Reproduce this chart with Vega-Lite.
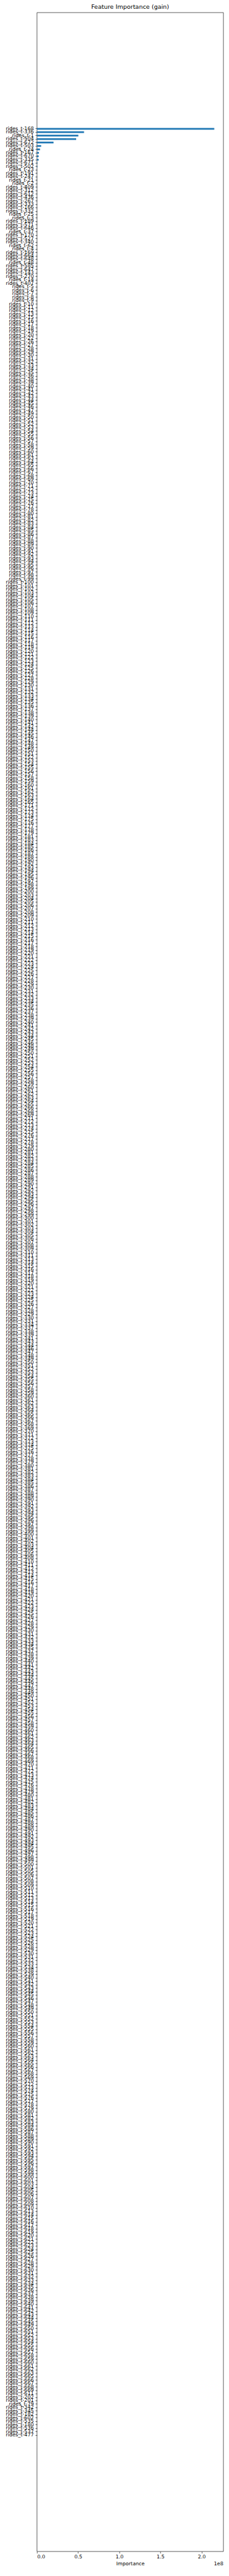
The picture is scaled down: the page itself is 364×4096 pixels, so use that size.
{"$schema":"https://vega.github.io/schema/vega-lite/v6.json","width":296.3,"height":4037,"autosize":"none","padding":{"left":58.7,"top":19.9,"right":9,"bottom":39.1},"background":"white","title":{"text":"Feature Importance (gain)","fontSize":9.47,"fontWeight":"normal","font":"DejaVu Sans","color":"black","anchor":"middle","frame":"group","offset":3.5},"config":{"view":{"stroke":"black","strokeWidth":0.63},"font":"DejaVu Sans"},"layer":[{"data":{"values":[
{"f":"rides_t-168","v":215600000},{"f":"rides_t-336","v":57270000},{"f":"rides_t-1","v":50350000},{"f":"rides_t-504","v":47700000},{"f":"rides_t-672","v":20210000},{"f":"rides_t-503","v":5140000},{"f":"rides_t-24","v":3720000},{"f":"rides_t-167","v":2480000},{"f":"rides_t-670","v":2130000},{"f":"rides_t-335","v":2120000},{"f":"rides_t-671","v":530000},{"f":"rides_t-502","v":520000},
{"f":"rides_t-23","v":120000},{"f":"rides_t-191","v":110000},{"f":"rides_t-247","v":100000},{"f":"rides_t-21","v":95000},{"f":"rides_t-2","v":90000},{"f":"rides_t-409","v":86000},{"f":"rides_t-312","v":82000},{"f":"rides_t-612","v":79000},{"f":"rides_t-436","v":76000},{"f":"rides_t-267","v":73000},
{"f":"rides_t-333","v":70000},{"f":"rides_t-166","v":68000},{"f":"rides_t-332","v":66000},{"f":"rides_t-25","v":64000},{"f":"rides_t-3","v":62000},{"f":"rides_t-189","v":60000},{"f":"rides_t-571","v":58000},{"f":"rides_t-646","v":56500},{"f":"rides_t-37","v":55000},{"f":"rides_t-170","v":53500},
{"f":"rides_t-527","v":52000},{"f":"rides_t-340","v":50500},{"f":"rides_t-62","v":49000},{"f":"rides_t-4","v":48000},{"f":"rides_t-169","v":47000},{"f":"rides_t-664","v":46000},{"f":"rides_t-648","v":45000},{"f":"rides_t-48","v":44000},{"f":"rides_t-585","v":43000},{"f":"rides_t-647","v":42000},
{"f":"rides_t-143","v":41000},{"f":"rides_t-270","v":40000},{"f":"rides_t-14","v":39000},{"f":"rides_t-407","v":38000},
{"f":"rides_t-5","v":37000},{"f":"rides_t-6","v":37000},{"f":"rides_t-7","v":37000},{"f":"rides_t-8","v":37000},{"f":"rides_t-9","v":37000},{"f":"rides_t-10","v":37000},{"f":"rides_t-11","v":37000},{"f":"rides_t-12","v":37000},{"f":"rides_t-13","v":37000},{"f":"rides_t-15","v":37000},
{"f":"rides_t-16","v":36400},{"f":"rides_t-17","v":36400},{"f":"rides_t-18","v":36400},{"f":"rides_t-19","v":36400},{"f":"rides_t-20","v":36400},{"f":"rides_t-22","v":36400},{"f":"rides_t-26","v":36400},{"f":"rides_t-27","v":36400},{"f":"rides_t-28","v":36400},{"f":"rides_t-29","v":36400},
{"f":"rides_t-30","v":35800},{"f":"rides_t-31","v":35800},{"f":"rides_t-32","v":35800},{"f":"rides_t-33","v":35800},{"f":"rides_t-34","v":35800},{"f":"rides_t-35","v":35800},{"f":"rides_t-36","v":35800},{"f":"rides_t-38","v":35800},{"f":"rides_t-39","v":35800},{"f":"rides_t-40","v":35800},
{"f":"rides_t-41","v":35200},{"f":"rides_t-42","v":35200},{"f":"rides_t-43","v":35200},{"f":"rides_t-44","v":35200},{"f":"rides_t-45","v":35200},{"f":"rides_t-46","v":35200},{"f":"rides_t-47","v":35200},{"f":"rides_t-49","v":35200},{"f":"rides_t-50","v":35200},{"f":"rides_t-51","v":35200},
{"f":"rides_t-52","v":34600},{"f":"rides_t-53","v":34600},{"f":"rides_t-54","v":34600},{"f":"rides_t-55","v":34600},{"f":"rides_t-56","v":34600},{"f":"rides_t-57","v":34600},{"f":"rides_t-58","v":34600},{"f":"rides_t-59","v":34600},{"f":"rides_t-60","v":34600},{"f":"rides_t-61","v":34600},
{"f":"rides_t-63","v":34000},{"f":"rides_t-64","v":34000},{"f":"rides_t-65","v":34000},{"f":"rides_t-66","v":34000},{"f":"rides_t-67","v":34000},{"f":"rides_t-68","v":34000},{"f":"rides_t-69","v":34000},{"f":"rides_t-70","v":34000},{"f":"rides_t-71","v":34000},{"f":"rides_t-72","v":34000},
{"f":"rides_t-73","v":33400},{"f":"rides_t-74","v":33400},{"f":"rides_t-75","v":33400},{"f":"rides_t-76","v":33400},{"f":"rides_t-77","v":33400},{"f":"rides_t-78","v":33400},{"f":"rides_t-80","v":33400},{"f":"rides_t-81","v":33400},{"f":"rides_t-82","v":33400},{"f":"rides_t-83","v":33400},
{"f":"rides_t-84","v":32800},{"f":"rides_t-85","v":32800},{"f":"rides_t-86","v":32800},{"f":"rides_t-87","v":32800},{"f":"rides_t-88","v":32800},{"f":"rides_t-89","v":32800},{"f":"rides_t-90","v":32800},{"f":"rides_t-91","v":32800},{"f":"rides_t-92","v":32800},{"f":"rides_t-93","v":32800},
{"f":"rides_t-94","v":32200},{"f":"rides_t-95","v":32200},{"f":"rides_t-96","v":32200},{"f":"rides_t-97","v":32200},{"f":"rides_t-98","v":32200},{"f":"rides_t-99","v":32200},{"f":"rides_t-100","v":32200},{"f":"rides_t-101","v":32200},{"f":"rides_t-102","v":32200},{"f":"rides_t-103","v":32200},
{"f":"rides_t-104","v":31600},{"f":"rides_t-105","v":31600},{"f":"rides_t-106","v":31600},{"f":"rides_t-107","v":31600},{"f":"rides_t-108","v":31600},{"f":"rides_t-109","v":31600},{"f":"rides_t-110","v":31600},{"f":"rides_t-111","v":31600},{"f":"rides_t-112","v":31600},{"f":"rides_t-113","v":31600},
{"f":"rides_t-114","v":31000},{"f":"rides_t-115","v":31000},{"f":"rides_t-116","v":31000},{"f":"rides_t-117","v":31000},{"f":"rides_t-118","v":31000},{"f":"rides_t-119","v":31000},{"f":"rides_t-120","v":31000},{"f":"rides_t-121","v":31000},{"f":"rides_t-122","v":31000},{"f":"rides_t-123","v":31000},
{"f":"rides_t-124","v":30400},{"f":"rides_t-125","v":30400},{"f":"rides_t-126","v":30400},{"f":"rides_t-127","v":30400},{"f":"rides_t-128","v":30400},{"f":"rides_t-129","v":30400},{"f":"rides_t-130","v":30400},{"f":"rides_t-131","v":30400},{"f":"rides_t-132","v":30400},{"f":"rides_t-133","v":30400},
{"f":"rides_t-134","v":29800},{"f":"rides_t-135","v":29800},{"f":"rides_t-136","v":29800},{"f":"rides_t-137","v":29800},{"f":"rides_t-138","v":29800},{"f":"rides_t-139","v":29800},{"f":"rides_t-140","v":29800},{"f":"rides_t-141","v":29800},{"f":"rides_t-142","v":29800},{"f":"rides_t-144","v":29800},
{"f":"rides_t-145","v":29200},{"f":"rides_t-146","v":29200},{"f":"rides_t-147","v":29200},{"f":"rides_t-148","v":29200},{"f":"rides_t-149","v":29200},{"f":"rides_t-150","v":29200},{"f":"rides_t-151","v":29200},{"f":"rides_t-152","v":29200},{"f":"rides_t-153","v":29200},{"f":"rides_t-154","v":29200},
{"f":"rides_t-155","v":28600},{"f":"rides_t-156","v":28600},{"f":"rides_t-157","v":28600},{"f":"rides_t-158","v":28600},{"f":"rides_t-159","v":28600},{"f":"rides_t-160","v":28600},{"f":"rides_t-161","v":28600},{"f":"rides_t-162","v":28600},{"f":"rides_t-163","v":28600},{"f":"rides_t-164","v":28600},
{"f":"rides_t-165","v":28000},{"f":"rides_t-171","v":28000},{"f":"rides_t-172","v":28000},{"f":"rides_t-173","v":28000},{"f":"rides_t-174","v":28000},{"f":"rides_t-175","v":28000},{"f":"rides_t-176","v":28000},{"f":"rides_t-177","v":28000},{"f":"rides_t-178","v":28000},{"f":"rides_t-179","v":28000},
{"f":"rides_t-181","v":27400},{"f":"rides_t-183","v":27400},{"f":"rides_t-184","v":27400},{"f":"rides_t-185","v":27400},{"f":"rides_t-186","v":27400},{"f":"rides_t-187","v":27400},{"f":"rides_t-188","v":27400},{"f":"rides_t-190","v":27400},{"f":"rides_t-192","v":27400},{"f":"rides_t-193","v":27400},
{"f":"rides_t-194","v":26800},{"f":"rides_t-195","v":26800},{"f":"rides_t-196","v":26800},{"f":"rides_t-197","v":26800},{"f":"rides_t-198","v":26800},{"f":"rides_t-199","v":26800},{"f":"rides_t-200","v":26800},{"f":"rides_t-203","v":26800},{"f":"rides_t-204","v":26800},{"f":"rides_t-205","v":26800},
{"f":"rides_t-206","v":26200},{"f":"rides_t-207","v":26200},{"f":"rides_t-208","v":26200},{"f":"rides_t-209","v":26200},{"f":"rides_t-210","v":26200},{"f":"rides_t-211","v":26200},{"f":"rides_t-212","v":26200},{"f":"rides_t-213","v":26200},{"f":"rides_t-214","v":26200},{"f":"rides_t-215","v":26200},
{"f":"rides_t-216","v":25600},{"f":"rides_t-217","v":25600},{"f":"rides_t-218","v":25600},{"f":"rides_t-219","v":25600},{"f":"rides_t-220","v":25600},{"f":"rides_t-221","v":25600},{"f":"rides_t-222","v":25600},{"f":"rides_t-223","v":25600},{"f":"rides_t-224","v":25600},{"f":"rides_t-225","v":25600},
{"f":"rides_t-226","v":25000},{"f":"rides_t-227","v":25000},{"f":"rides_t-228","v":25000},{"f":"rides_t-229","v":25000},{"f":"rides_t-230","v":25000},{"f":"rides_t-231","v":25000},{"f":"rides_t-232","v":25000},{"f":"rides_t-233","v":25000},{"f":"rides_t-234","v":25000},{"f":"rides_t-235","v":25000},
{"f":"rides_t-236","v":24400},{"f":"rides_t-237","v":24400},{"f":"rides_t-238","v":24400},{"f":"rides_t-239","v":24400},{"f":"rides_t-240","v":24400},{"f":"rides_t-241","v":24400},{"f":"rides_t-242","v":24400},{"f":"rides_t-243","v":24400},{"f":"rides_t-244","v":24400},{"f":"rides_t-245","v":24400},
{"f":"rides_t-246","v":23800},{"f":"rides_t-248","v":23800},{"f":"rides_t-249","v":23800},{"f":"rides_t-250","v":23800},{"f":"rides_t-251","v":23800},{"f":"rides_t-252","v":23800},{"f":"rides_t-253","v":23800},{"f":"rides_t-254","v":23800},{"f":"rides_t-255","v":23800},{"f":"rides_t-256","v":23800},
{"f":"rides_t-257","v":23200},{"f":"rides_t-258","v":23200},{"f":"rides_t-259","v":23200},{"f":"rides_t-260","v":23200},{"f":"rides_t-261","v":23200},{"f":"rides_t-262","v":23200},{"f":"rides_t-263","v":23200},{"f":"rides_t-264","v":23200},{"f":"rides_t-265","v":23200},{"f":"rides_t-266","v":23200},
{"f":"rides_t-268","v":22600},{"f":"rides_t-269","v":22600},{"f":"rides_t-271","v":22600},{"f":"rides_t-272","v":22600},{"f":"rides_t-273","v":22600},{"f":"rides_t-274","v":22600},{"f":"rides_t-275","v":22600},{"f":"rides_t-276","v":22600},{"f":"rides_t-277","v":22600},{"f":"rides_t-278","v":22600},
{"f":"rides_t-279","v":22000},{"f":"rides_t-280","v":22000},{"f":"rides_t-281","v":22000},{"f":"rides_t-282","v":22000},{"f":"rides_t-283","v":22000},{"f":"rides_t-284","v":22000},{"f":"rides_t-285","v":22000},{"f":"rides_t-286","v":22000},{"f":"rides_t-287","v":22000},{"f":"rides_t-288","v":22000},
{"f":"rides_t-289","v":21400},{"f":"rides_t-290","v":21400},{"f":"rides_t-291","v":21400},{"f":"rides_t-292","v":21400},{"f":"rides_t-293","v":21400},{"f":"rides_t-294","v":21400},{"f":"rides_t-295","v":21400},{"f":"rides_t-296","v":21400},{"f":"rides_t-297","v":21400},{"f":"rides_t-298","v":21400},
{"f":"rides_t-299","v":20800},{"f":"rides_t-300","v":20800},{"f":"rides_t-301","v":20800},{"f":"rides_t-302","v":20800},{"f":"rides_t-303","v":20800},{"f":"rides_t-304","v":20800},{"f":"rides_t-305","v":20800},{"f":"rides_t-306","v":20800},{"f":"rides_t-307","v":20800},{"f":"rides_t-308","v":20800},
{"f":"rides_t-309","v":20200},{"f":"rides_t-310","v":20200},{"f":"rides_t-311","v":20200},{"f":"rides_t-313","v":20200},{"f":"rides_t-314","v":20200},{"f":"rides_t-315","v":20200},{"f":"rides_t-316","v":20200},{"f":"rides_t-317","v":20200},{"f":"rides_t-318","v":20200},{"f":"rides_t-319","v":20200},
{"f":"rides_t-320","v":19600},{"f":"rides_t-321","v":19600},{"f":"rides_t-322","v":19600},{"f":"rides_t-323","v":19600},{"f":"rides_t-324","v":19600},{"f":"rides_t-325","v":19600},{"f":"rides_t-326","v":19600},{"f":"rides_t-327","v":19600},{"f":"rides_t-328","v":19600},{"f":"rides_t-329","v":19600},
{"f":"rides_t-330","v":19000},{"f":"rides_t-331","v":19000},{"f":"rides_t-334","v":19000},{"f":"rides_t-337","v":19000},{"f":"rides_t-338","v":19000},{"f":"rides_t-339","v":19000},{"f":"rides_t-341","v":19000},{"f":"rides_t-343","v":19000},{"f":"rides_t-344","v":19000},{"f":"rides_t-346","v":19000},
{"f":"rides_t-347","v":18400},{"f":"rides_t-348","v":18400},{"f":"rides_t-349","v":18400},{"f":"rides_t-350","v":18400},{"f":"rides_t-351","v":18400},{"f":"rides_t-352","v":18400},{"f":"rides_t-353","v":18400},{"f":"rides_t-354","v":18400},{"f":"rides_t-355","v":18400},{"f":"rides_t-356","v":18400},
{"f":"rides_t-357","v":17800},{"f":"rides_t-358","v":17800},{"f":"rides_t-359","v":17800},{"f":"rides_t-360","v":17800},{"f":"rides_t-361","v":17800},{"f":"rides_t-362","v":17800},{"f":"rides_t-363","v":17800},{"f":"rides_t-364","v":17800},{"f":"rides_t-365","v":17800},{"f":"rides_t-366","v":17800},
{"f":"rides_t-367","v":17200},{"f":"rides_t-368","v":17200},{"f":"rides_t-369","v":17200},{"f":"rides_t-370","v":17200},{"f":"rides_t-371","v":17200},{"f":"rides_t-372","v":17200},{"f":"rides_t-373","v":17200},{"f":"rides_t-374","v":17200},{"f":"rides_t-375","v":17200},{"f":"rides_t-376","v":17200},
{"f":"rides_t-377","v":16600},{"f":"rides_t-378","v":16600},{"f":"rides_t-379","v":16600},{"f":"rides_t-380","v":16600},{"f":"rides_t-381","v":16600},{"f":"rides_t-382","v":16600},{"f":"rides_t-383","v":16600},{"f":"rides_t-384","v":16600},{"f":"rides_t-385","v":16600},{"f":"rides_t-386","v":16600},
{"f":"rides_t-387","v":16000},{"f":"rides_t-388","v":16000},{"f":"rides_t-389","v":16000},{"f":"rides_t-390","v":16000},{"f":"rides_t-391","v":16000},{"f":"rides_t-392","v":16000},{"f":"rides_t-393","v":16000},{"f":"rides_t-394","v":16000},{"f":"rides_t-395","v":16000},{"f":"rides_t-396","v":16000},
{"f":"rides_t-397","v":15400},{"f":"rides_t-398","v":15400},{"f":"rides_t-399","v":15400},{"f":"rides_t-400","v":15400},{"f":"rides_t-401","v":15400},{"f":"rides_t-402","v":15400},{"f":"rides_t-403","v":15400},{"f":"rides_t-404","v":15400},{"f":"rides_t-405","v":15400},{"f":"rides_t-406","v":15400},
{"f":"rides_t-408","v":14800},{"f":"rides_t-410","v":14800},{"f":"rides_t-411","v":14800},{"f":"rides_t-412","v":14800},{"f":"rides_t-413","v":14800},{"f":"rides_t-414","v":14800},{"f":"rides_t-415","v":14800},{"f":"rides_t-416","v":14800},{"f":"rides_t-417","v":14800},{"f":"rides_t-418","v":14800},
{"f":"rides_t-419","v":14200},{"f":"rides_t-420","v":14200},{"f":"rides_t-421","v":14200},{"f":"rides_t-422","v":14200},{"f":"rides_t-423","v":14200},{"f":"rides_t-424","v":14200},{"f":"rides_t-425","v":14200},{"f":"rides_t-426","v":14200},{"f":"rides_t-427","v":14200},{"f":"rides_t-428","v":14200},
{"f":"rides_t-429","v":13600},{"f":"rides_t-430","v":13600},{"f":"rides_t-431","v":13600},{"f":"rides_t-432","v":13600},{"f":"rides_t-433","v":13600},{"f":"rides_t-434","v":13600},{"f":"rides_t-435","v":13600},{"f":"rides_t-437","v":13600},{"f":"rides_t-438","v":13600},{"f":"rides_t-439","v":13600},
{"f":"rides_t-440","v":13000},{"f":"rides_t-441","v":13000},{"f":"rides_t-442","v":13000},{"f":"rides_t-443","v":13000},{"f":"rides_t-444","v":13000},{"f":"rides_t-445","v":13000},{"f":"rides_t-446","v":13000},{"f":"rides_t-447","v":13000},{"f":"rides_t-448","v":13000},{"f":"rides_t-449","v":13000},
{"f":"rides_t-450","v":12400},{"f":"rides_t-451","v":12400},{"f":"rides_t-452","v":12400},{"f":"rides_t-453","v":12400},{"f":"rides_t-454","v":12400},{"f":"rides_t-455","v":12400},{"f":"rides_t-456","v":12400},{"f":"rides_t-457","v":12400},{"f":"rides_t-458","v":12400},{"f":"rides_t-459","v":12400},
{"f":"rides_t-460","v":11800},{"f":"rides_t-461","v":11800},{"f":"rides_t-462","v":11800},{"f":"rides_t-463","v":11800},{"f":"rides_t-464","v":11800},{"f":"rides_t-465","v":11800},{"f":"rides_t-466","v":11800},{"f":"rides_t-467","v":11800},{"f":"rides_t-468","v":11800},{"f":"rides_t-469","v":11800},
{"f":"rides_t-470","v":11200},{"f":"rides_t-471","v":11200},{"f":"rides_t-472","v":11200},{"f":"rides_t-473","v":11200},{"f":"rides_t-474","v":11200},{"f":"rides_t-475","v":11200},{"f":"rides_t-476","v":11200},{"f":"rides_t-478","v":11200},{"f":"rides_t-479","v":11200},{"f":"rides_t-480","v":11200},
{"f":"rides_t-481","v":10600},{"f":"rides_t-482","v":10600},{"f":"rides_t-483","v":10600},{"f":"rides_t-484","v":10600},{"f":"rides_t-485","v":10600},{"f":"rides_t-486","v":10600},{"f":"rides_t-487","v":10600},{"f":"rides_t-488","v":10600},{"f":"rides_t-489","v":10600},{"f":"rides_t-490","v":10600},
{"f":"rides_t-491","v":10000},{"f":"rides_t-492","v":10000},{"f":"rides_t-493","v":10000},{"f":"rides_t-494","v":10000},{"f":"rides_t-495","v":10000},{"f":"rides_t-496","v":10000},{"f":"rides_t-497","v":10000},{"f":"rides_t-498","v":10000},{"f":"rides_t-499","v":10000},{"f":"rides_t-500","v":10000},
{"f":"rides_t-501","v":9400},{"f":"rides_t-505","v":9400},{"f":"rides_t-506","v":9400},{"f":"rides_t-507","v":9400},{"f":"rides_t-508","v":9400},{"f":"rides_t-509","v":9400},{"f":"rides_t-510","v":9400},{"f":"rides_t-511","v":9400},{"f":"rides_t-512","v":9400},{"f":"rides_t-513","v":9400},
{"f":"rides_t-514","v":8800},{"f":"rides_t-515","v":8800},{"f":"rides_t-516","v":8800},{"f":"rides_t-517","v":8800},{"f":"rides_t-518","v":8800},{"f":"rides_t-519","v":8800},{"f":"rides_t-520","v":8800},{"f":"rides_t-521","v":8800},{"f":"rides_t-522","v":8800},{"f":"rides_t-523","v":8800},
{"f":"rides_t-524","v":8200},{"f":"rides_t-525","v":8200},{"f":"rides_t-526","v":8200},{"f":"rides_t-528","v":8200},{"f":"rides_t-529","v":8200},{"f":"rides_t-530","v":8200},{"f":"rides_t-531","v":8200},{"f":"rides_t-532","v":8200},{"f":"rides_t-533","v":8200},{"f":"rides_t-534","v":8200},
{"f":"rides_t-538","v":7600},{"f":"rides_t-539","v":7600},{"f":"rides_t-540","v":7600},{"f":"rides_t-541","v":7600},{"f":"rides_t-542","v":7600},{"f":"rides_t-543","v":7600},{"f":"rides_t-544","v":7600},{"f":"rides_t-545","v":7600},{"f":"rides_t-546","v":7600},{"f":"rides_t-547","v":7600},
{"f":"rides_t-548","v":7000},{"f":"rides_t-549","v":7000},{"f":"rides_t-550","v":7000},{"f":"rides_t-551","v":7000},{"f":"rides_t-552","v":7000},{"f":"rides_t-553","v":7000},{"f":"rides_t-554","v":7000},{"f":"rides_t-555","v":7000},{"f":"rides_t-556","v":7000},{"f":"rides_t-557","v":7000},
{"f":"rides_t-558","v":6400},{"f":"rides_t-559","v":6400},{"f":"rides_t-560","v":6400},{"f":"rides_t-561","v":6400},{"f":"rides_t-562","v":6400},{"f":"rides_t-563","v":6400},{"f":"rides_t-564","v":6400},{"f":"rides_t-565","v":6400},{"f":"rides_t-566","v":6400},{"f":"rides_t-567","v":6400},
{"f":"rides_t-568","v":5800},{"f":"rides_t-569","v":5800},{"f":"rides_t-570","v":5800},{"f":"rides_t-572","v":5800},{"f":"rides_t-573","v":5800},{"f":"rides_t-574","v":5800},{"f":"rides_t-575","v":5800},{"f":"rides_t-576","v":5800},{"f":"rides_t-577","v":5800},{"f":"rides_t-578","v":5800},
{"f":"rides_t-579","v":5200},{"f":"rides_t-580","v":5200},{"f":"rides_t-581","v":5200},{"f":"rides_t-582","v":5200},{"f":"rides_t-583","v":5200},{"f":"rides_t-584","v":5200},{"f":"rides_t-586","v":5200},{"f":"rides_t-587","v":5200},{"f":"rides_t-588","v":5200},{"f":"rides_t-589","v":5200},
{"f":"rides_t-590","v":4600},{"f":"rides_t-591","v":4600},{"f":"rides_t-592","v":4600},{"f":"rides_t-593","v":4600},{"f":"rides_t-594","v":4600},{"f":"rides_t-595","v":4600},{"f":"rides_t-596","v":4600},{"f":"rides_t-597","v":4600},{"f":"rides_t-598","v":4600},{"f":"rides_t-599","v":4600},
{"f":"rides_t-600","v":4000},{"f":"rides_t-601","v":4000},{"f":"rides_t-603","v":4000},{"f":"rides_t-604","v":4000},{"f":"rides_t-605","v":4000},{"f":"rides_t-606","v":4000},{"f":"rides_t-607","v":4000},{"f":"rides_t-608","v":4000},{"f":"rides_t-609","v":4000},{"f":"rides_t-610","v":4000},
{"f":"rides_t-613","v":3400},{"f":"rides_t-614","v":3400},{"f":"rides_t-615","v":3400},{"f":"rides_t-616","v":3400},{"f":"rides_t-617","v":3400},{"f":"rides_t-618","v":3400},{"f":"rides_t-619","v":3400},{"f":"rides_t-620","v":3400},{"f":"rides_t-621","v":3400},{"f":"rides_t-622","v":3400},
{"f":"rides_t-623","v":2800},{"f":"rides_t-624","v":2800},{"f":"rides_t-625","v":2800},{"f":"rides_t-626","v":2800},{"f":"rides_t-627","v":2800},{"f":"rides_t-628","v":2800},{"f":"rides_t-629","v":2800},{"f":"rides_t-630","v":2800},{"f":"rides_t-631","v":2800},{"f":"rides_t-632","v":2800},
{"f":"rides_t-633","v":2200},{"f":"rides_t-634","v":2200},{"f":"rides_t-635","v":2200},{"f":"rides_t-636","v":2200},{"f":"rides_t-637","v":2200},{"f":"rides_t-638","v":2200},{"f":"rides_t-639","v":2200},{"f":"rides_t-640","v":2200},{"f":"rides_t-641","v":2200},{"f":"rides_t-642","v":2200},
{"f":"rides_t-643","v":1600},{"f":"rides_t-644","v":1600},{"f":"rides_t-645","v":1600},{"f":"rides_t-649","v":1600},{"f":"rides_t-650","v":1600},{"f":"rides_t-651","v":1600},{"f":"rides_t-652","v":1600},{"f":"rides_t-653","v":1600},{"f":"rides_t-654","v":1600},{"f":"rides_t-655","v":1600},
{"f":"rides_t-656","v":1000},{"f":"rides_t-657","v":1000},{"f":"rides_t-658","v":1000},{"f":"rides_t-659","v":1000},{"f":"rides_t-660","v":1000},{"f":"rides_t-661","v":1000},{"f":"rides_t-662","v":1000},{"f":"rides_t-663","v":1000},{"f":"rides_t-665","v":1000},{"f":"rides_t-666","v":1000},
{"f":"rides_t-667","v":800},{"f":"rides_t-668","v":800},{"f":"rides_t-669","v":800},
{"f":"rides_t-611","v":700},{"f":"rides_t-202","v":600},{"f":"rides_t-201","v":500},{"f":"rides_t-79","v":400},{"f":"rides_t-342","v":300},{"f":"rides_t-345","v":250},{"f":"rides_t-182","v":200},{"f":"rides_t-602","v":150},{"f":"rides_t-535","v":100},{"f":"rides_t-180","v":80},{"f":"rides_t-536","v":60},{"f":"rides_t-537","v":40},{"f":"rides_t-477","v":20}
]},"mark":{"type":"bar","color":"#1f77b4"},"encoding":{"y":{"field":"f","type":"nominal","sort":null,"scale":{"paddingInner":0.5,"paddingOuter":0,"range":[183.5,3853.5]},"axis":{"title":null,"labelFontSize":7.9,"labelFont":"DejaVu Sans","labelColor":"black","labelOverlap":false,"labelLimit":0,"tickColor":"black","tickSize":2.76,"tickWidth":0.63,"labelPadding":2.76,"domain":false,"grid":false}},"x":{"field":"v","type":"quantitative","scale":{"domain":[0,226600000],"nice":false,"zero":true},"axis":{"title":"Importance","titleFontSize":7.9,"titleFontWeight":"normal","titleFont":"DejaVu Sans","titleColor":"black","titlePadding":2.5,"values":[0,50000000,100000000,150000000,200000000],"labelExpr":"format(datum.value/1e8, '.1f')","labelFontSize":7.9,"labelFont":"DejaVu Sans","labelColor":"black","labelPadding":2.2,"tickColor":"black","tickSize":2.76,"tickWidth":0.63,"domain":false,"grid":false}}}},{"data":{"values":[{}]},"mark":{"type":"text","text":"1e8","align":"right","baseline":"middle","dy":19.9,"fontSize":7.9,"font":"DejaVu Sans","color":"black"},"encoding":{"x":{"datum":226600000,"type":"quantitative"},"y":{"value":"height"}}}]}
